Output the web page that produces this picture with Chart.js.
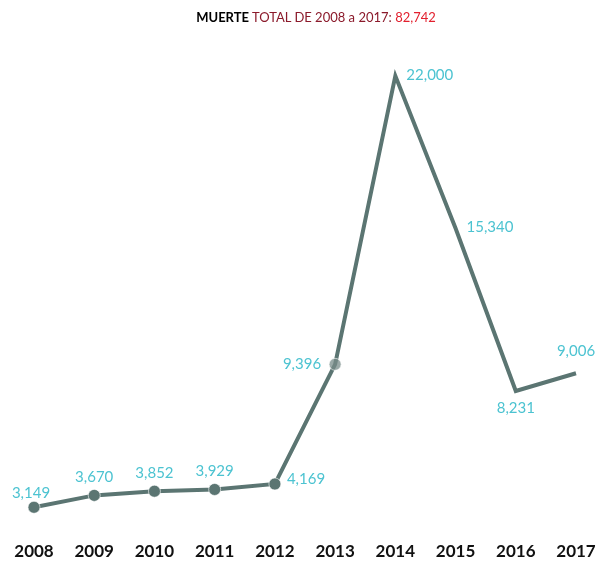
<!DOCTYPE html>
<html>
<head>
<meta charset="utf-8">
<script src="https://cdn.jsdelivr.net/npm/chart.js@4"></script>
<style>
  body { margin: 0; background: #fff; }
  #wrap { position: relative; width: 612px; height: 570px; }
  #title { position: absolute; top: 9px; left: 0; width: 632px; text-align: center;
           font: 13px Lato, sans-serif; color: #8b1a2b; }
  #title b { color: #000; }
  #title span { color: #e2202e; }
</style>
</head>
<body>
<div id="wrap">
  <canvas id="myChart" width="612" height="570"></canvas>
  <div id="title"><b>MUERTE</b> TOTAL DE 2008 a 2017: <span>82,742</span></div>
</div>
<script>
var years = ['2008', '2009', '2010', '2011', '2012', '2013', '2014', '2015', '2016', '2017'];
var deaths = [3149, 3670, 3852, 3929, 4169, 9396, 22000, 15340, 8231, 9006];
// where each value label sits relative to its point
var labelSide = ['aboveLeft', 'above', 'above', 'above', 'rightUp', 'left', 'right', 'right', 'below', 'above'];

var lineColor = '#5b7572';

var valueLabels = {
  id: 'valueLabels',
  afterDatasetsDraw: function(chart){
    var ctx = chart.ctx;
    var pts = chart.getDatasetMeta(0).data;
    ctx.save();
    ctx.font = '15px Lato';
    ctx.fillStyle = '#4cc3d1';
    ctx.textBaseline = 'middle';
    pts.forEach(function(p, i){
      var txt = deaths[i].toLocaleString('en-US');
      var side = labelSide[i];
      var x = p.x, y = p.y;
      if (side === 'above') { ctx.textAlign = 'center'; y -= 18; }
      else if (side === 'aboveLeft') { ctx.textAlign = 'center'; x -= 3; y -= 14; }
      else if (side === 'below') { ctx.textAlign = 'center'; y += 17; }
      else if (side === 'right') { ctx.textAlign = 'left'; x += 11; y -= 1; }
      else if (side === 'rightUp') { ctx.textAlign = 'left'; x += 12; y -= 5; }
      else if (side === 'left') { ctx.textAlign = 'right'; x -= 14; }
      if (i === deaths.length - 1) y -= 4;
      ctx.fillText(txt, x, y);
    });
    ctx.restore();
  }
};

var context = document.getElementById('myChart');
var chart = new Chart(context, {
  type: 'line',
  data: {
    labels: years,
    datasets: [{
      data: deaths,
      borderColor: lineColor,
      borderWidth: 4,
      tension: 0,
      pointRadius: [6, 6, 6, 6, 6, 6, 0, 0, 0, 0],
      pointBackgroundColor: [lineColor, lineColor, lineColor, lineColor, lineColor, 'rgba(120,140,138,0.75)', lineColor, lineColor, lineColor, lineColor],
      pointBorderColor: 'rgba(255,255,255,0.6)',
      pointBorderWidth: 1
    }]
  },
  options: {
    responsive: false,
    animation: false,
    layout: { padding: { top: 53, left: 34, right: 36, bottom: 0 } },
    plugins: { legend: { display: false }, tooltip: { enabled: false } },
    scales: {
      x: {
        offset: false,
        grid: { display: false, drawTicks: false },
        border: { display: false },
        ticks: { color: '#111', padding: 8, font: { family: 'Lato', size: 17, weight: 'bold' }, maxRotation: 0 }
      },
      y: { display: false, min: 2000, max: 23000 }
    }
  },
  plugins: [valueLabels]
});
</script>
</body>
</html>
